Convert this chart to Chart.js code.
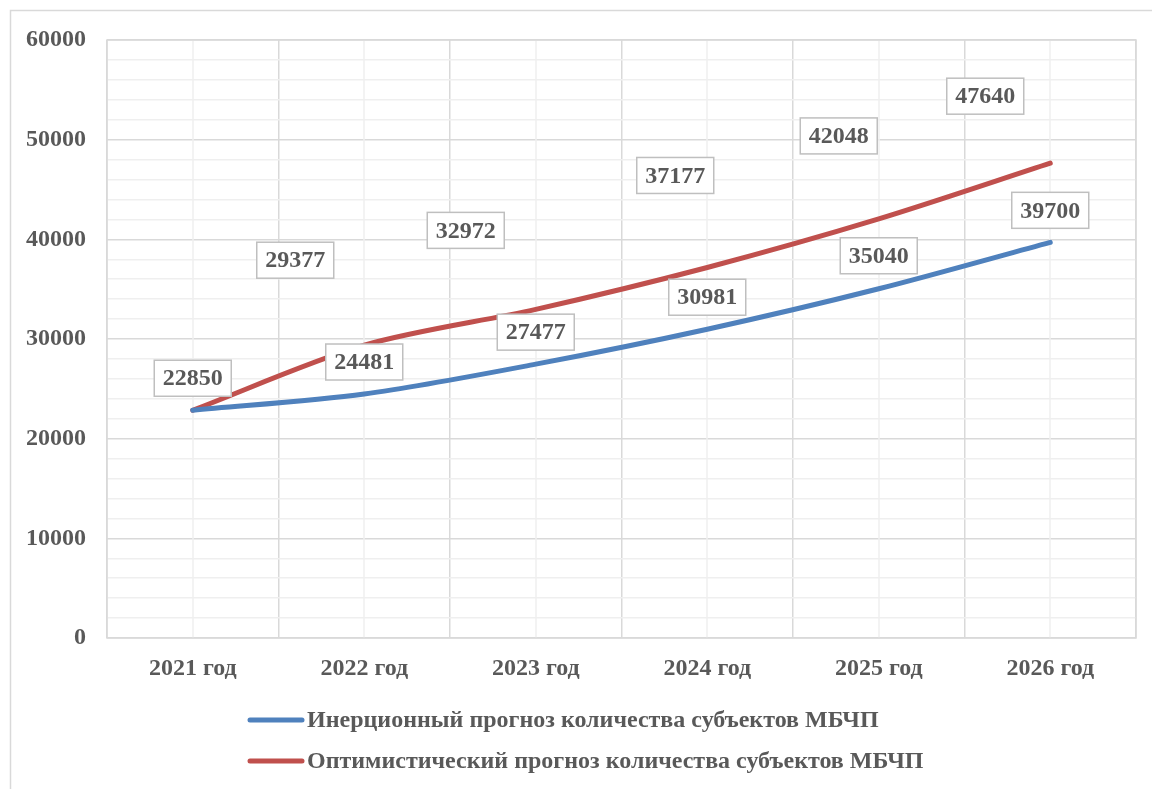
<!DOCTYPE html>
<html><head><meta charset="utf-8">
<script src="https://cdn.jsdelivr.net/npm/chart.js@4.4.1/dist/chart.umd.min.js"></script>
<style>
html,body{margin:0;padding:0;background:#fff;}
#wrap{width:1152px;height:789px;position:relative;}
</style></head>
<body><div id="wrap"><canvas id="c" width="1152" height="789"></canvas></div>
<script>
const categories = ['2021 год','2022 год','2023 год','2024 год','2025 год','2026 год'];
const inertialValues = [22850, 24481, 27477, 30981, 35040, 39700];
const optimisticValues = [22850, 29377, 32972, 37177, 42048, 47640];
const seriesNames = ['Инерционный прогноз количества субъектов МБЧП','Оптимистический прогноз количества субъектов МБЧП'];
const yTickLabels = [0, 10000, 20000, 30000, 40000, 50000, 60000];

// label layout (pixel offsets of label box centre from its point)
const inertialLabelOffsets = [[0,-32],[0,-32],[0,-32],[0,-32],[0,-33],[0,-32]];
const optimisticLabelOffsets = [null,[-69,-85],[-70,-79],[-32,-92],[-40,-83],[-65,-67]];

const FONT = '"Liberation Serif","Times New Roman",serif';
const TXT = '#595959';
const BLUE = '#4F81BD', RED = '#C0504D';

const extrasPlugin = {
  id:'extras',
  beforeDraw(chart){
    const ctx = chart.ctx;
    ctx.save();
    ctx.fillStyle='#fff'; ctx.fillRect(0,0,chart.width,chart.height);
    ctx.strokeStyle='#d9d9d9'; ctx.lineWidth=1.5;
    ctx.beginPath(); ctx.moveTo(10.5,chart.height); ctx.lineTo(10.5,10.5); ctx.lineTo(chart.width,10.5); ctx.stroke();
    ctx.restore();
  },
  beforeDatasetsDraw(chart){
    const ctx = chart.ctx, xs = chart.scales.x, a = chart.chartArea;
    ctx.save();
    ctx.strokeStyle='#efefef'; ctx.lineWidth=1.5;
    categories.forEach((c,i)=>{
      const x = Math.round(xs.getPixelForValue(i));
      ctx.beginPath(); ctx.moveTo(x,a.top); ctx.lineTo(x,a.bottom); ctx.stroke();
    });
    ctx.strokeStyle='#d9d9d9'; ctx.lineWidth=1.5;
    ctx.strokeRect(a.left,a.top,a.right-a.left,a.bottom-a.top);
    ctx.restore();
  },
  afterDatasetsDraw(chart){
    const ctx = chart.ctx;
    ctx.save();
    ctx.font = 'bold 24px '+FONT;
    ctx.textAlign='center'; ctx.textBaseline='middle';
    const drawBox=(x,y,val)=>{
      const w=77,h=36;
      ctx.fillStyle='#fff'; ctx.fillRect(x-w/2,y-h/2,w,h);
      ctx.strokeStyle='#bfbfbf'; ctx.lineWidth=1.5; ctx.strokeRect(x-w/2,y-h/2,w,h);
      ctx.fillStyle=TXT; ctx.fillText(String(val),x,y+1);
    };
    [[0,inertialValues,inertialLabelOffsets],[1,optimisticValues,optimisticLabelOffsets]].forEach(([di,vals,offs])=>{
      const meta = chart.getDatasetMeta(di);
      meta.data.forEach((pt,i)=>{
        if(!offs[i]) return;
        drawBox(pt.x+offs[i][0], pt.y+offs[i][1], vals[i]);
      });
    });
    // legend
    ctx.font='bold 24px '+FONT;
    ctx.textAlign='left';
    const rows=[[BLUE,720],[RED,761]];
    rows.forEach(([col,y],i)=>{
      ctx.strokeStyle=col; ctx.lineWidth=5; ctx.lineCap='round';
      ctx.beginPath(); ctx.moveTo(250,y); ctx.lineTo(302,y); ctx.stroke();
      ctx.fillStyle=TXT; ctx.fillText(seriesNames[i],307,y+1);
    });
    ctx.restore();
  }
};

new Chart(document.getElementById('c'),{
  type:'line',
  data:{
    labels:categories,
    datasets:[
      {label:seriesNames[0],data:inertialValues,borderColor:BLUE,borderWidth:5,pointRadius:0,tension:0.3,borderCapStyle:'round',borderJoinStyle:'round'},
      {label:seriesNames[1],data:optimisticValues,borderColor:RED,borderWidth:5,pointRadius:0,tension:0.3,borderCapStyle:'round',borderJoinStyle:'round'}
    ]
  },
  options:{
    responsive:false,animation:false,
    layout:{padding:{left:0,top:40,right:16,bottom:0}},
    plugins:{legend:{display:false},tooltip:{enabled:false}},
    scales:{
      x:{
        offset:true,
        grid:{offset:true,color:'#d9d9d9',lineWidth:1.5,drawTicks:false},
        border:{display:false},
        ticks:{padding:16,color:TXT,font:{family:FONT,size:24,weight:'bold'}},
        afterFit(s){s.height=151;}
      },
      y:{
        min:0,max:60000,
        grid:{color:(c)=> (c.tick && c.tick.value%10000===0)?'#d9d9d9':'#efefef',lineWidth:1.5,drawTicks:false},
        border:{display:false},
        ticks:{stepSize:2000,autoSkip:false,padding:21,color:TXT,font:{family:FONT,size:24,weight:'bold'},
          callback:(v)=> yTickLabels.includes(v)? String(v):''},
        afterFit(s){s.width=107;}
      }
    }
  },
  plugins:[extrasPlugin]
});
</script></body></html>
